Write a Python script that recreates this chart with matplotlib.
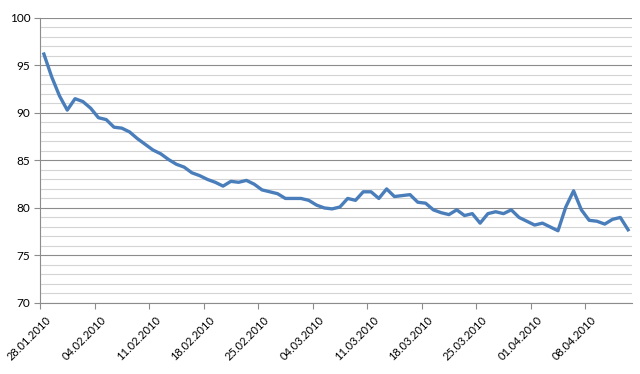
import numpy as np
import pandas as pd
import matplotlib
matplotlib.use('Agg')
import matplotlib.pyplot as plt
import matplotlib.transforms as mtransforms

# daily values, 28.01.2010 .. 13.04.2010
dates = pd.date_range('2010-01-28', '2010-04-13', freq='D')
values = [
    96.2, 93.8, 91.8, 90.3, 91.5, 91.2, 90.5, 89.5, 89.3, 88.5,
    88.4, 88.0, 87.3, 86.7, 86.1, 85.7, 85.1, 84.6, 84.3, 83.7,
    83.4, 83.0, 82.7, 82.3, 82.8, 82.7, 82.9, 82.5, 81.9, 81.7,
    81.5, 81.0, 81.0, 81.0, 80.8, 80.3, 80.0, 79.9, 80.1, 81.0,
    80.8, 81.7, 81.7, 81.0, 82.0, 81.2, 81.3, 81.4, 80.6, 80.5,
    79.8, 79.5, 79.3, 79.8, 79.2, 79.4, 78.4, 79.4, 79.6, 79.4,
    79.8, 79.0, 78.6, 78.2, 78.4, 78.0, 77.6, 80.1, 81.8, 79.8,
    78.7, 78.6, 78.3, 78.8, 79.0, 77.7,
]
tick_labels = ['28.01.2010', '04.02.2010', '11.02.2010', '18.02.2010',
               '25.02.2010', '04.03.2010', '11.03.2010', '18.03.2010',
               '25.03.2010', '01.04.2010', '08.04.2010']

plt.rcParams['font.family'] = ['Lato', 'DejaVu Sans']

fig = plt.figure(figsize=(6.4, 3.74), dpi=100)
ax = fig.add_axes([0.0625, 0.19, 0.925, 0.762])

x = np.arange(len(dates))
ax.plot(x, values, color='#4a7ebb', linewidth=2.4, solid_joinstyle='round', zorder=3)

ax.set_xlim(-0.5, len(dates) - 0.5)
ax.set_ylim(70, 100)

# gridlines: minor every 1, major every 5
ax.set_yticks(np.arange(70, 101, 5))
ax.set_yticks(np.arange(70, 101, 1), minor=True)
ax.grid(axis='y', which='minor', color='#d4d4d4', linewidth=0.8, zorder=0)
ax.grid(axis='y', which='major', color='#8c8c8c', linewidth=0.8, zorder=1)
ax.tick_params(axis='y', which='minor', length=0)
ax.tick_params(axis='y', which='major', length=4, color='#8c8c8c', labelsize=8.5, pad=3)

ax.set_xticks(np.arange(0, len(dates), 7) - 0.5)
ax.set_xticklabels(tick_labels, rotation=45, ha='right', va='top', rotation_mode='anchor')
ax.tick_params(axis='x', length=4, color='#8c8c8c', labelsize=8, pad=4)

# nudge the rotated date labels a little to the right, like Excel does
shift = mtransforms.ScaledTranslation(4 / 72, 0, fig.dpi_scale_trans)
for lbl in ax.get_xticklabels():
    lbl.set_transform(lbl.get_transform() + shift)

for side in ['top', 'right']:
    ax.spines[side].set_visible(False)
for side in ['left', 'bottom']:
    ax.spines[side].set_color('#8c8c8c')
    ax.spines[side].set_linewidth(0.8)

fig.savefig('out.png', dpi=100)
